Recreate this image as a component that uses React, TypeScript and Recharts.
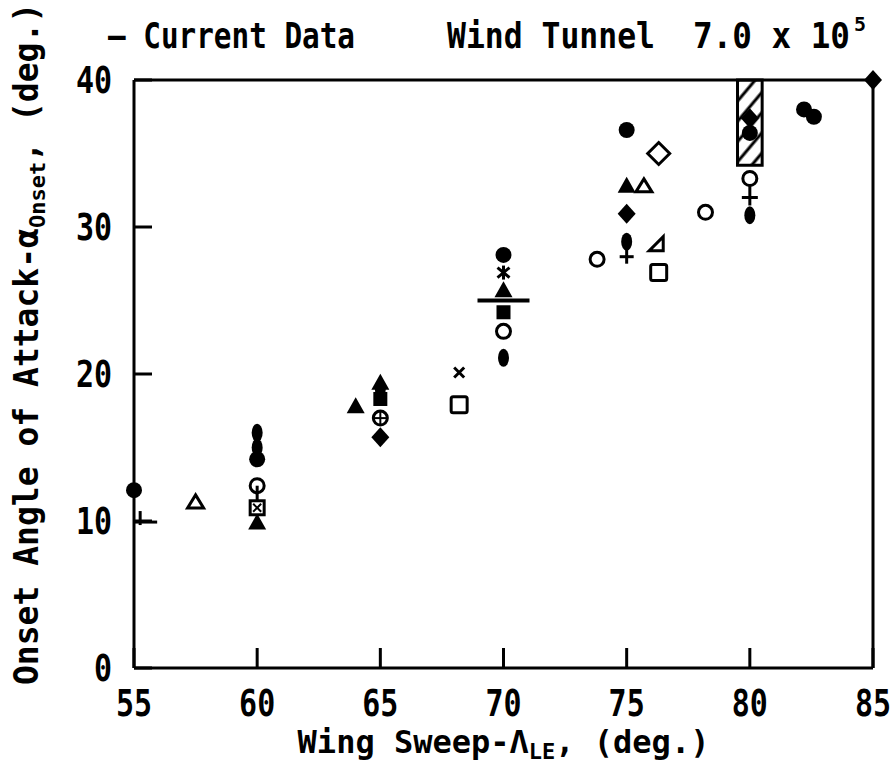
import React from "react";
import { ScatterChart, Scatter, XAxis, YAxis, ReferenceArea } from "recharts";

const xTicks = [55, 60, 65, 70, 75, 80, 85];
const yTicks = [0, 10, 20, 30, 40];

// [sweep deg, onset alpha deg] for each plotting symbol
const filledCircle = [[55, 12.1], [60, 14.2], [70, 28.1], [75, 36.6], [80, 36.4], [82.2, 38.0], [82.6, 37.5]];
const filledEllipse = [[60, 16.0], [60, 15.0], [65, 19.0], [70, 21.1], [80, 30.8]];
const filledTriangle = [[60, 9.9], [64, 17.8], [65, 19.4], [70, 25.7], [75, 32.8]];
const filledDiamond = [[65, 15.7], [75, 30.9], [80, 37.4], [85, 40]];
const filledSquare = [[65, 18.3], [70, 24.2]];
const openCircle = [[70, 22.9], [73.8, 27.8], [78.2, 31.0]];
const openTriangle = [[57.5, 11.3], [75.7, 32.8]];
const rightTriangle = [[76.2, 28.8]];
const openDiamond = [[76.3, 35.0]];
const openSquare = [[68.2, 17.9], [76.3, 26.9]];
const crossSquare = [[60, 10.9]];
const circlePlus = [[65, 17.0]];
const circleStem = [[60, 12.4]];
const openVenus = [[80, 33.3]];
const filledVenus = [[75, 29.0]];
const crossMark = [[68.2, 20.1]];
const asterisk = [[70, 26.9]];
const flagCross = [[55.25, 10.2]];
const currentData = [[70, 25.0]];
const hatchX = [79.5, 80.5];
const hatchY = [34.2, 40];

const K = "#000";
const FONT = '"DejaVu Sans Mono", monospace';
const SW = 3;

function Marker({ kind, cx, cy }: { kind: string; cx: number; cy: number }) {
  let m: React.ReactNode = null;
  const open = { fill: "#fff", stroke: K, strokeWidth: SW };
  const ln = { stroke: K, strokeWidth: SW };
  switch (kind) {
    case "fc": m = <circle r={8} fill={K} />; break;
    case "fe": m = <ellipse rx={5.5} ry={9} fill={K} />; break;
    case "ft": m = <polygon points="0,-9 9,7 -9,7" fill={K} />; break;
    case "fd": m = <polygon points="0,-10 9,0 0,10 -9,0" fill={K} />; break;
    case "fs": m = <rect x={-7} y={-7} width={14} height={14} fill={K} />; break;
    case "oc": m = <circle r={7} {...open} />; break;
    case "ot": m = <polygon points="0,-7 8,6 -8,6" {...open} />; break;
    case "rt": m = <polygon points="-7,6 7,6 7,-8" {...open} />; break;
    case "od": m = <polygon points="0,-11 11,0 0,11 -11,0" {...open} />; break;
    case "os": m = <rect x={-8} y={-8} width={16} height={16} rx={2} {...open} />; break;
    case "sx": m = (<g><rect x={-7} y={-7} width={14} height={14} {...open} /><line x1={-4} y1={-4} x2={4} y2={4} {...ln} strokeWidth={2} /><line x1={4} y1={-4} x2={-4} y2={4} {...ln} strokeWidth={2} /></g>); break;
    case "cp": m = (<g><circle r={7} {...open} /><line x1={-7} x2={7} {...ln} strokeWidth={2} /><line y1={-7} y2={7} {...ln} strokeWidth={2} /></g>); break;
    case "cs": m = (<g><circle r={7} {...open} /><line y1={0} y2={15} {...ln} /></g>); break;
    case "ov": m = (<g><line y1={6} y2={27} {...ln} /><line x1={-8} x2={8} y1={19} y2={19} {...ln} /><circle r={7} {...open} /></g>); break;
    case "fv": m = (<g><line y1={6} y2={22} {...ln} /><line x1={-7} x2={7} y1={15} y2={15} {...ln} /><ellipse rx={5.5} ry={9} fill={K} /></g>); break;
    case "x": m = (<g><line x1={-5} y1={-5} x2={5} y2={5} {...ln} /><line x1={5} y1={-5} x2={-5} y2={5} {...ln} /></g>); break;
    case "ast": m = (<g><line x1={-6} y1={-5} x2={6} y2={5} {...ln} /><line x1={6} y1={-5} x2={-6} y2={5} {...ln} /><line y1={-7} y2={7} {...ln} /></g>); break;
    case "pf": m = (<g><line y1={-7} y2={7} {...ln} /><line x1={-6} x2={17} y1={4} y2={4} {...ln} /></g>); break;
    case "bar": m = <line x1={-26} x2={26} {...ln} strokeWidth={4} />; break;
  }
  return <g transform={`translate(${cx},${cy})`}>{m}</g>;
}

const series: [string, number[][]][] = [
  ["fe", filledEllipse],
  ["fs", filledSquare],
  ["ft", filledTriangle],
  ["fc", filledCircle],
  ["fd", filledDiamond],
  ["oc", openCircle],
  ["ot", openTriangle],
  ["rt", rightTriangle],
  ["od", openDiamond],
  ["os", openSquare],
  ["sx", crossSquare],
  ["cp", circlePlus],
  ["cs", circleStem],
  ["ov", openVenus],
  ["fv", filledVenus],
  ["x", crossMark],
  ["ast", asterisk],
  ["pf", flagCross],
  ["bar", currentData],
];

const txt = { fontFamily: FONT, fontWeight: "bold" as const, fill: K };

const BottomTick = (p: any) => (
  <g>
    <line x1={p.x} x2={p.x} y1={p.y} y2={p.y - 20} stroke={K} strokeWidth={SW} />
    <text transform={`translate(${p.x},${p.y + 48}) scale(1,1.25)`} textAnchor="middle" fontSize={30} {...txt}>
      {p.payload.value}
    </text>
  </g>
);

const LeftTick = (p: any) => (
  <g>
    <line x1={p.x} x2={p.x + 18} y1={p.y} y2={p.y} stroke={K} strokeWidth={SW} />
    <text transform={`translate(${p.x - 22},${p.y + 13}) scale(1,1.25)`} textAnchor="end" fontSize={30} {...txt}>
      {p.payload.value}
    </text>
  </g>
);

const TopTick = (p: any) => <line x1={p.x} x2={p.x} y1={p.y} y2={p.y + 18} stroke={K} strokeWidth={SW} />;
const RightTick = (p: any) => <line x1={p.x} x2={p.x - 18} y1={p.y} y2={p.y} stroke={K} strokeWidth={SW} />;

const XTitle = (p: any) => {
  const vb = p.viewBox;
  return (
    <text x={vb.x + vb.width / 2} y={vb.y + 85} textAnchor="middle" fontSize={32} {...txt}>
      Wing Sweep-Λ<tspan fontSize={22} dy={6}>LE</tspan>
      <tspan dy={-6}>, (deg.)</tspan>
    </text>
  );
};

const YTitle = (p: any) => {
  const vb = p.viewBox;
  return (
    <text transform={`translate(38,${vb.y + vb.height + 17}) rotate(-90)`} textAnchor="start" fontSize={33} {...txt}>
      Onset Angle of Attack-α<tspan fontSize={22} dy={7}>Onset</tspan>
      <tspan dy={-7}>, (deg.)</tspan>
    </text>
  );
};

const axisLine = { stroke: K, strokeWidth: SW };

export default function App() {
  return (
    <div style={{ position: "absolute", left: 0, top: 0, width: 892, height: 768, background: "#fff" }}>
      <ScatterChart width={892} height={768} margin={{ top: 0, right: 0, bottom: 0, left: 0 }}>
        <defs>
          <pattern id="hatch" patternUnits="userSpaceOnUse" width={13} height={13} patternTransform="rotate(40)">
            <line x1={6} x2={6} y1={0} y2={13} stroke={K} strokeWidth={3} />
          </pattern>
        </defs>
        <XAxis dataKey="x" type="number" domain={[55, 85]} ticks={xTicks} interval={0} height={100}
          axisLine={axisLine} tickLine={false} tickSize={0} tickMargin={0} tick={BottomTick}
          label={{ content: XTitle }} />
        <XAxis xAxisId="top" orientation="top" type="number" domain={[55, 85]} ticks={xTicks} interval={0} height={80}
          axisLine={axisLine} tickLine={false} tickSize={0} tickMargin={0} tick={TopTick} />
        <YAxis dataKey="y" type="number" domain={[0, 40]} ticks={yTicks} interval={0} width={134}
          axisLine={axisLine} tickLine={false} tickSize={0} tickMargin={0} tick={LeftTick}
          label={{ content: YTitle }} />
        <YAxis yAxisId="right" orientation="right" type="number" domain={[0, 40]} ticks={yTicks} interval={0} width={19}
          axisLine={axisLine} tickLine={false} tickSize={0} tickMargin={0} tick={RightTick} />
        <ReferenceArea x1={hatchX[0]} x2={hatchX[1]} y1={hatchY[0]} y2={hatchY[1]}
          fill="url(#hatch)" fillOpacity={1} stroke={K} strokeWidth={SW} />
        {series.map(([kind, arr]) => (
          <Scatter key={kind} data={arr.map(([x, y]) => ({ x, y }))} isAnimationActive={false}
            shape={(p: any) => <Marker kind={kind} cx={p.cx} cy={p.cy} />} />
        ))}
      </ScatterChart>
      <svg width={892} height={768} style={{ position: "absolute", left: 0, top: 0, pointerEvents: "none" }}>
        <text x={108} y={48} textLength={247} lengthAdjust="spacingAndGlyphs" fontSize={29} {...txt}
          transform="translate(0,-9.6) scale(1,1.2)">— Current Data</text>
        <text x={447} y={48} textLength={208} lengthAdjust="spacingAndGlyphs" fontSize={29} {...txt}
          transform="translate(0,-9.6) scale(1,1.2)">Wind Tunnel</text>
        <text x={693} y={48} textLength={157} lengthAdjust="spacingAndGlyphs" fontSize={29} {...txt}
          transform="translate(0,-9.6) scale(1,1.2)">7.0 x 10</text>
        <text x={854} y={31} fontSize={20} {...txt}>5</text>
      </svg>
    </div>
  );
}
